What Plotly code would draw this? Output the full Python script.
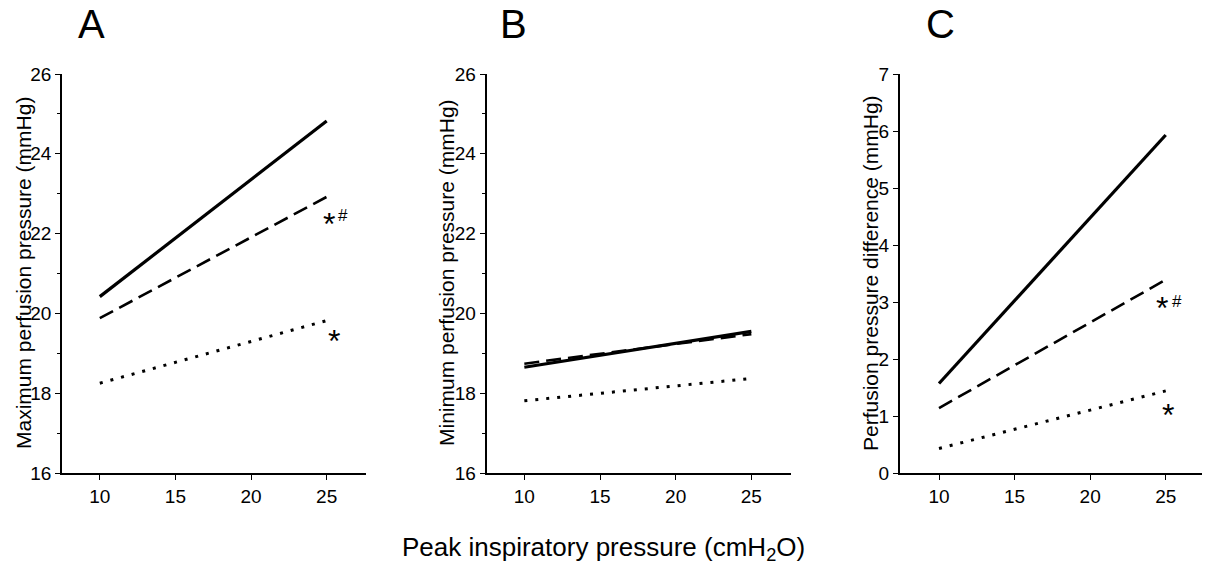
import plotly.graph_objects as go

# ---- data ----
pip_x = [10, 25]

# Panel A: maximum perfusion pressure (mmHg)
a_solid = [20.42, 24.82]
a_dashed = [19.88, 22.92]
a_dotted = [18.25, 19.82]

# Panel B: minimum perfusion pressure (mmHg)
b_solid = [18.65, 19.55]
b_dashed = [18.74, 19.48]
b_dotted = [17.81, 18.37]

# Panel C: perfusion pressure difference (mmHg)
c_solid = [1.57, 5.93]
c_dashed = [1.14, 3.39]
c_dotted = [0.43, 1.44]

x_ticks = [10, 15, 20, 25]
ab_y_ticks = [16, 18, 20, 22, 24, 26]
c_y_ticks = [0, 1, 2, 3, 4, 5, 6, 7]

panel_letters = ["A", "B", "C"]
y_titles = ["Maximum perfusion pressure (mmHg)",
            "Minimum perfusion pressure (mmHg)",
            "Perfusion pressure difference (mmHg)"]
x_title = "Peak inspiratory pressure (cmH<sub>2</sub>O)"

FONT = "Liberation Sans, Arial, Helvetica, sans-serif"
W, H = 1206, 568


def px(x):
    return x / W


def py(y):
    return 1 - y / H


fig = go.Figure()

panels = [
    ("x", "y", a_solid, a_dashed, a_dotted),
    ("x2", "y2", b_solid, b_dashed, b_dotted),
    ("x3", "y3", c_solid, c_dashed, c_dotted),
]
styles = [
    dict(color="black", width=3.2, dash="solid"),
    dict(color="black", width=2.6, dash="15px,7px"),
    dict(color="black", width=3, dash="3px,8px"),
]
for xa, ya, s, d, o in panels:
    for vals, st in zip([s, d, o], styles):
        fig.add_trace(go.Scatter(x=pip_x, y=vals, mode="lines", line=st,
                                 xaxis=xa, yaxis=ya, showlegend=False,
                                 hoverinfo="skip"))

ydom = [py(473), py(74)]
xdoms = [[px(62), px(366)], [px(486.5), px(790.7)], [px(899.7), px(1202)]]
xranges = [[7.5, 27.6], [7.5, 27.6], [7.4, 27.4]]

common_axis = dict(showline=True, linecolor="black", linewidth=1.6,
                   ticks="outside", tickcolor="black", tickwidth=1.4, ticklen=5,
                   showgrid=False, zeroline=False, automargin=False,
                   tickfont=dict(family=FONT, size=19, color="black"))

layout = dict(width=W, height=H, autosize=False,
              margin=dict(l=0, r=0, t=0, b=0, pad=0),
              paper_bgcolor="white", plot_bgcolor="white", showlegend=False)

for i in range(3):
    sx = "" if i == 0 else str(i + 1)
    layout["xaxis" + sx] = dict(common_axis, domain=xdoms[i], range=xranges[i],
                                tickvals=x_ticks, anchor="y" + sx,
                                ticklabelstandoff=0)
    if i < 2:
        layout["yaxis" + sx] = dict(common_axis, domain=ydom, range=[16, 26],
                                    tickvals=ab_y_ticks, anchor="x" + sx,
                                    minor=dict(dtick=1, tick0=16, ticks="outside",
                                               ticklen=3, tickcolor="black",
                                               tickwidth=1.2))
    else:
        layout["yaxis" + sx] = dict(common_axis, domain=ydom, range=[0, 7],
                                    tickvals=c_y_ticks, anchor="x" + sx)

fig.update_layout(**layout)

annotations = []
# panel letters
letter_x = [91, 513, 941]
for L, lx in zip(panel_letters, letter_x):
    annotations.append(dict(text=L, x=px(lx), y=py(24), xref="paper", yref="paper",
                            showarrow=False, xanchor="center", yanchor="middle",
                            font=dict(family=FONT, size=40, color="black")))
# y titles
title_x = [23, 446, 870]
for t, tx in zip(y_titles, title_x):
    annotations.append(dict(text=t, x=px(tx), y=py(273), xref="paper", yref="paper",
                            showarrow=False, textangle=-90, xanchor="center",
                            yanchor="middle",
                            font=dict(family=FONT, size=21, color="black")))
# common x title
annotations.append(dict(text=x_title, x=px(603), y=py(548), xref="paper", yref="paper",
                        showarrow=False, xanchor="center", yanchor="middle",
                        font=dict(family=FONT, size=26, color="black")))

# significance markers
marks = [
    ("x", "y", 25.15, 22.37, "*", 32),
    ("x", "y", 26.1, 22.45, "#", 17),
    ("x", "y", 25.48, 19.43, "*", 32),
    ("x3", "y3", 24.74, 2.99, "*", 32),
    ("x3", "y3", 25.75, 3.01, "#", 17),
    ("x3", "y3", 25.18, 1.11, "*", 32),
]
for xa, ya, mx, my, txt, fs in marks:
    annotations.append(dict(text=txt, x=mx, y=my, xref=xa, yref=ya, showarrow=False,
                            xanchor="center", yanchor="middle",
                            yshift=-5 if txt == "*" else 0,
                            font=dict(family=FONT, size=fs, color="black")))

fig.update_layout(annotations=annotations)
fig.write_html("out.html", config={"displayModeBar": False},
               post_script="document.body.style.margin='0px';")
